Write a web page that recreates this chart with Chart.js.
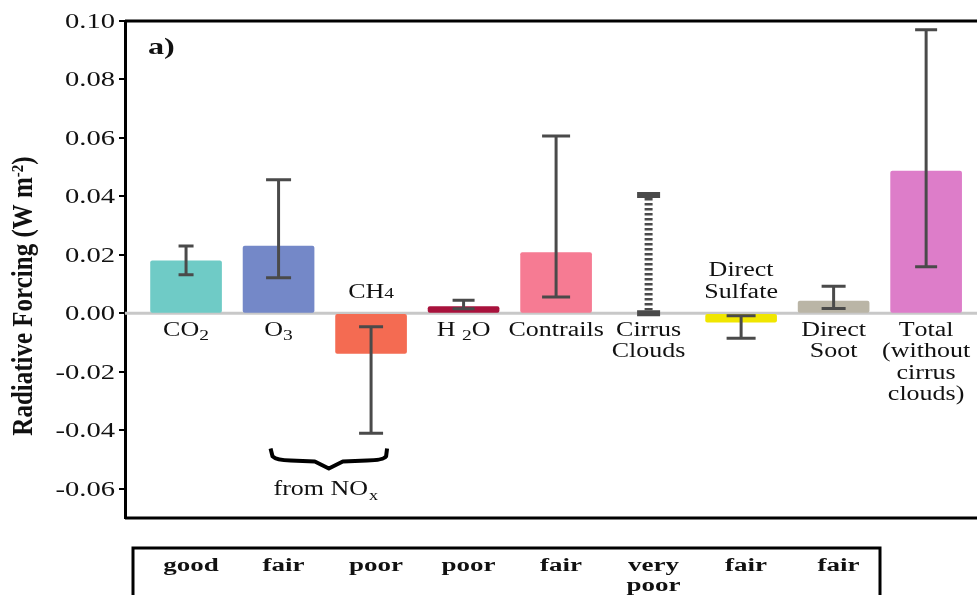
<!DOCTYPE html>
<html>
<head>
<meta charset="utf-8">
<script src="https://cdn.jsdelivr.net/npm/chart.js@4.4.1/dist/chart.umd.min.js"></script>
<style>
    html, body { margin: 0; padding: 0; background: #fff; }
    #wrap { width: 977px; height: 595px; position: relative; }
</style>
</head>
<body>
<div id="wrap"><canvas id="rfChart"></canvas></div>
<script>
// Category labels: "_" marks a subscript char, "~" a small digit on the baseline, "|" a line break
const categories = ['CO_2', 'O_3', 'CH~4', 'H _2O', 'Contrails', 'Cirrus|Clouds',
    'Direct|Sulfate', 'Direct|Soot', 'Total|(without|cirrus|clouds)'];

// Radiative forcing (W m-2), null = no bar drawn
const forcing = [0.018, 0.023, -0.0137, 0.0023, 0.0208, null, -0.003, 0.0042, 0.0487];
const errHigh = [0.0230, 0.0457, -0.0046, 0.0045, 0.0607, 0.0405, -0.0008, 0.0093, 0.0970];
const errLow  = [0.0132, 0.0122, -0.0410, 0.0016, 0.0056, 0.0000, -0.0085, 0.0017, 0.0159];

// Level of scientific understanding (table under the plot)
const quality = ['good', 'fair', 'poor', 'poor', 'fair', 'very|poor', 'fair', 'fair'];

const yTicks = [-0.06, -0.04, -0.02, 0.00, 0.02, 0.04, 0.06, 0.08, 0.10];

// styles
const barColors = ['#6fcbc6', '#7488c8', '#f46b52', '#a8123c', '#f67b93',
    '#ffffff', '#f0e600', '#bab5a6', '#dd7dc9'];
const labelSide = ['below', 'below', 'above', 'below', 'below', 'below', 'above', 'below', 'below'];
const capWidth = [15, 25, 24, 22, 28, 23, 29, 24, 22];
const dashedErr = [false, false, false, false, false, true, false, false, false];

const SERIF = '"Liberation Serif", "Times New Roman", serif';
const STRETCH = 1.3;
const INK = '#111';

// Draw text horizontally stretched (the source figure is wider than normal Times)
function wideText(ctx, text, x, y, align, sx) {
    const w = ctx.measureText(text).width * sx;
    let left = x;
    if (align === 'center') left = x - w / 2;
    else if (align === 'right') left = x - w;
    ctx.save();
    ctx.translate(left, y);
    ctx.scale(sx, 1);
    ctx.textAlign = 'left';
    ctx.fillText(text, 0, 0);
    ctx.restore();
}

// Text with "_x" subscripts, centred at x
function richText(ctx, str, x, y, size) {
    const segs = [];
    for (let i = 0; i < str.length; i++) {
        if ((str[i] === '_' || str[i] === '~') && i + 1 < str.length) {
            segs.push({ t: str[i + 1], sub: true, drop: str[i] === '_' ? 0.3 : 0.08 });
            i++;
        } else {
            segs.push({ t: str[i], sub: false, drop: 0 });
        }
    }
    const mainFont = size + 'px ' + SERIF;
    const subFont = Math.round(size * 0.75) + 'px ' + SERIF;
    let total = 0;
    segs.forEach(s => {
        ctx.font = s.sub ? subFont : mainFont;
        s.w = ctx.measureText(s.t).width * STRETCH;
        total += s.w;
    });
    let cx = x - total / 2;
    segs.forEach(s => {
        ctx.font = s.sub ? subFont : mainFont;
        wideText(ctx, s.t, cx, y + size * s.drop, 'left', STRETCH);
        cx += s.w;
    });
}

const decorPlugin = {
    id: 'decor',
    beforeDatasetsDraw(chart) {
        const { ctx, chartArea, scales } = chart;
        const y0 = scales.y.getPixelForValue(0);
        ctx.save();
        ctx.strokeStyle = '#c8c8c8';
        ctx.lineWidth = 3;
        ctx.beginPath();
        ctx.moveTo(chartArea.left, y0);
        ctx.lineTo(chartArea.right, y0);
        ctx.stroke();
        ctx.restore();
    },
    afterDatasetsDraw(chart) {
        const { ctx, chartArea, scales } = chart;
        const xs = scales.x, ys = scales.y;
        const y0 = ys.getPixelForValue(0);

        // error bars
        ctx.save();
        ctx.strokeStyle = '#4a4a4a';
        categories.forEach((c, i) => {
            const x = xs.getPixelForValue(i);
            const yH = ys.getPixelForValue(errHigh[i]);
            const yL = ys.getPixelForValue(errLow[i]);
            const hw = capWidth[i] / 2;
            if (dashedErr[i]) {
                ctx.lineWidth = 8;
                ctx.setLineDash([2.5, 2.5]);
                ctx.beginPath();
                ctx.moveTo(x, yH + 3);
                ctx.lineTo(x, yL - 3);
                ctx.stroke();
                ctx.setLineDash([]);
                ctx.lineWidth = 6;
            } else {
                ctx.lineWidth = 3;
                ctx.beginPath();
                ctx.moveTo(x, yH);
                ctx.lineTo(x, yL);
                ctx.stroke();
            }
            ctx.beginPath();
            ctx.moveTo(x - hw, yH);
            ctx.lineTo(x + hw, yH);
            ctx.moveTo(x - hw, yL);
            ctx.lineTo(x + hw, yL);
            ctx.stroke();
        });
        ctx.restore();

        // category labels inside the plot
        ctx.save();
        ctx.fillStyle = INK;
        ctx.textBaseline = 'middle';
        categories.forEach((c, i) => {
            const x = xs.getPixelForValue(i);
            const lines = c.split('|');
            const lh = 21.5;
            lines.forEach((ln, k) => {
                let y;
                if (labelSide[i] === 'below') y = y0 + 17 + k * lh;
                else y = y0 - 21 - (lines.length - 1 - k) * lh;
                richText(ctx, ln, x, y, 20);
            });
        });

        // brace under O3 and CH4 with "from NOx"
        const bx1 = xs.getPixelForValue(1) - 8;
        const bx2 = xs.getPixelForValue(2) + 16;
        const bm = (bx1 + bx2) / 2;
        const by = ys.getPixelForValue(-0.0462);
        ctx.strokeStyle = '#000';
        ctx.lineWidth = 4;
        ctx.lineJoin = 'round';
        ctx.beginPath();
        ctx.moveTo(bx1, by);
        ctx.lineTo(bx1 + 2, by + 8);
        ctx.quadraticCurveTo(bx1 + 6, by + 12, bx1 + 20, by + 12);
        ctx.lineTo(bm - 14, by + 13);
        ctx.lineTo(bm, by + 20);
        ctx.lineTo(bm + 14, by + 13);
        ctx.lineTo(bx2 - 20, by + 12);
        ctx.quadraticCurveTo(bx2 - 4, by + 12, bx2 - 1, by + 8);
        ctx.lineTo(bx2, by);
        ctx.stroke();
        ctx.font = '20px ' + SERIF;
        const fromW = ctx.measureText('from NO').width * STRETCH;
        wideText(ctx, 'from NO', bm - 8 - fromW / 2, by + 41, 'left', STRETCH);
        ctx.font = '14px ' + SERIF;
        wideText(ctx, 'x', bm - 8 + fromW / 2 + 1, by + 48, 'left', STRETCH);

        // panel letter
        ctx.font = 'bold 23px ' + SERIF;
        wideText(ctx, 'a)', chartArea.left + 23, chartArea.top + 27, 'left', 1.4);
        ctx.restore();
    },
    afterDraw(chart) {
        const { ctx, chartArea, scales } = chart;
        const xs = scales.x, ys = scales.y;
        ctx.save();

        // frame top and bottom
        ctx.strokeStyle = '#000';
        ctx.lineWidth = 3;
        ctx.beginPath();
        ctx.moveTo(chartArea.left, chartArea.top);
        ctx.lineTo(chartArea.right, chartArea.top);
        ctx.moveTo(chartArea.left, chartArea.bottom);
        ctx.lineTo(chartArea.right, chartArea.bottom);
        ctx.stroke();

        // y tick labels
        ctx.fillStyle = INK;
        ctx.textBaseline = 'middle';
        ctx.font = '22px ' + SERIF;
        ys.ticks.forEach(t => {
            wideText(ctx, t.value.toFixed(2), chartArea.left - 10, ys.getPixelForValue(t.value) + 1, 'right', STRETCH);
        });

        // y title
        ctx.save();
        ctx.translate(25, 296);
        ctx.rotate(-Math.PI / 2);
        ctx.scale(1, 1.15);
        ctx.textBaseline = 'middle';
        const main = 'Radiative Forcing (W m';
        ctx.font = 'bold 25px ' + SERIF;
        const w1 = ctx.measureText(main).width;
        ctx.font = 'bold 15px ' + SERIF;
        const w2 = ctx.measureText('-2').width;
        ctx.font = 'bold 25px ' + SERIF;
        const w3 = ctx.measureText(')').width;
        const sx = -(w1 + w2 + w3) / 2;
        ctx.textAlign = 'left';
        ctx.fillText(main, sx, 0);
        ctx.font = 'bold 15px ' + SERIF;
        ctx.fillText('-2', sx + w1, -6);
        ctx.font = 'bold 25px ' + SERIF;
        ctx.fillText(')', sx + w1 + w2, 0);
        ctx.restore();

        // quality table
        const tLeft = 133, tTop = 548, tRight = 880;
        ctx.strokeStyle = '#000';
        ctx.lineWidth = 3;
        ctx.beginPath();
        ctx.moveTo(tLeft, 600);
        ctx.lineTo(tLeft, tTop);
        ctx.lineTo(tRight, tTop);
        ctx.lineTo(tRight, 600);
        ctx.stroke();
        ctx.font = 'bold 18px ' + SERIF;
        quality.forEach((q, i) => {
            const x = xs.getPixelForValue(i) + 5;
            q.split('|').forEach((ln, k) => {
                wideText(ctx, ln, x, 566 + k * 20, 'center', 1.5);
            });
        });
        ctx.restore();
    }
};

const ctx = document.getElementById('rfChart').getContext('2d');

new Chart(ctx, {
    type: 'bar',
    data: {
        datasets: [{
            data: forcing.map((v, i) => ({ x: i, y: v })),
            backgroundColor: barColors,
            borderWidth: 0,
            borderRadius: 2,
            borderSkipped: false,
            barThickness: 71
        }]
    },
    options: {
        responsive: true,
        maintainAspectRatio: false,
        animation: false,
        layout: {
            padding: { top: 21, bottom: 77, left: 0, right: 0 }
        },
        plugins: {
            legend: { display: false },
            tooltip: { enabled: false }
        },
        scales: {
            x: {
                type: 'linear',
                min: -0.66,
                max: 8.55,
                offset: false,
                display: false
            },
            y: {
                min: -0.07,
                max: 0.10,
                afterBuildTicks: function(scale) {
                    scale.ticks = yTicks.map(v => ({ value: v }));
                },
                afterFit: function(scale) {
                    scale.width = 125;
                },
                ticks: { display: false },
                grid: {
                    drawOnChartArea: false,
                    drawTicks: true,
                    tickLength: 6,
                    color: '#000',
                    lineWidth: 2
                },
                border: { color: '#000', width: 3 }
            }
        }
    },
    plugins: [decorPlugin]
});
</script>
</body>
</html>
